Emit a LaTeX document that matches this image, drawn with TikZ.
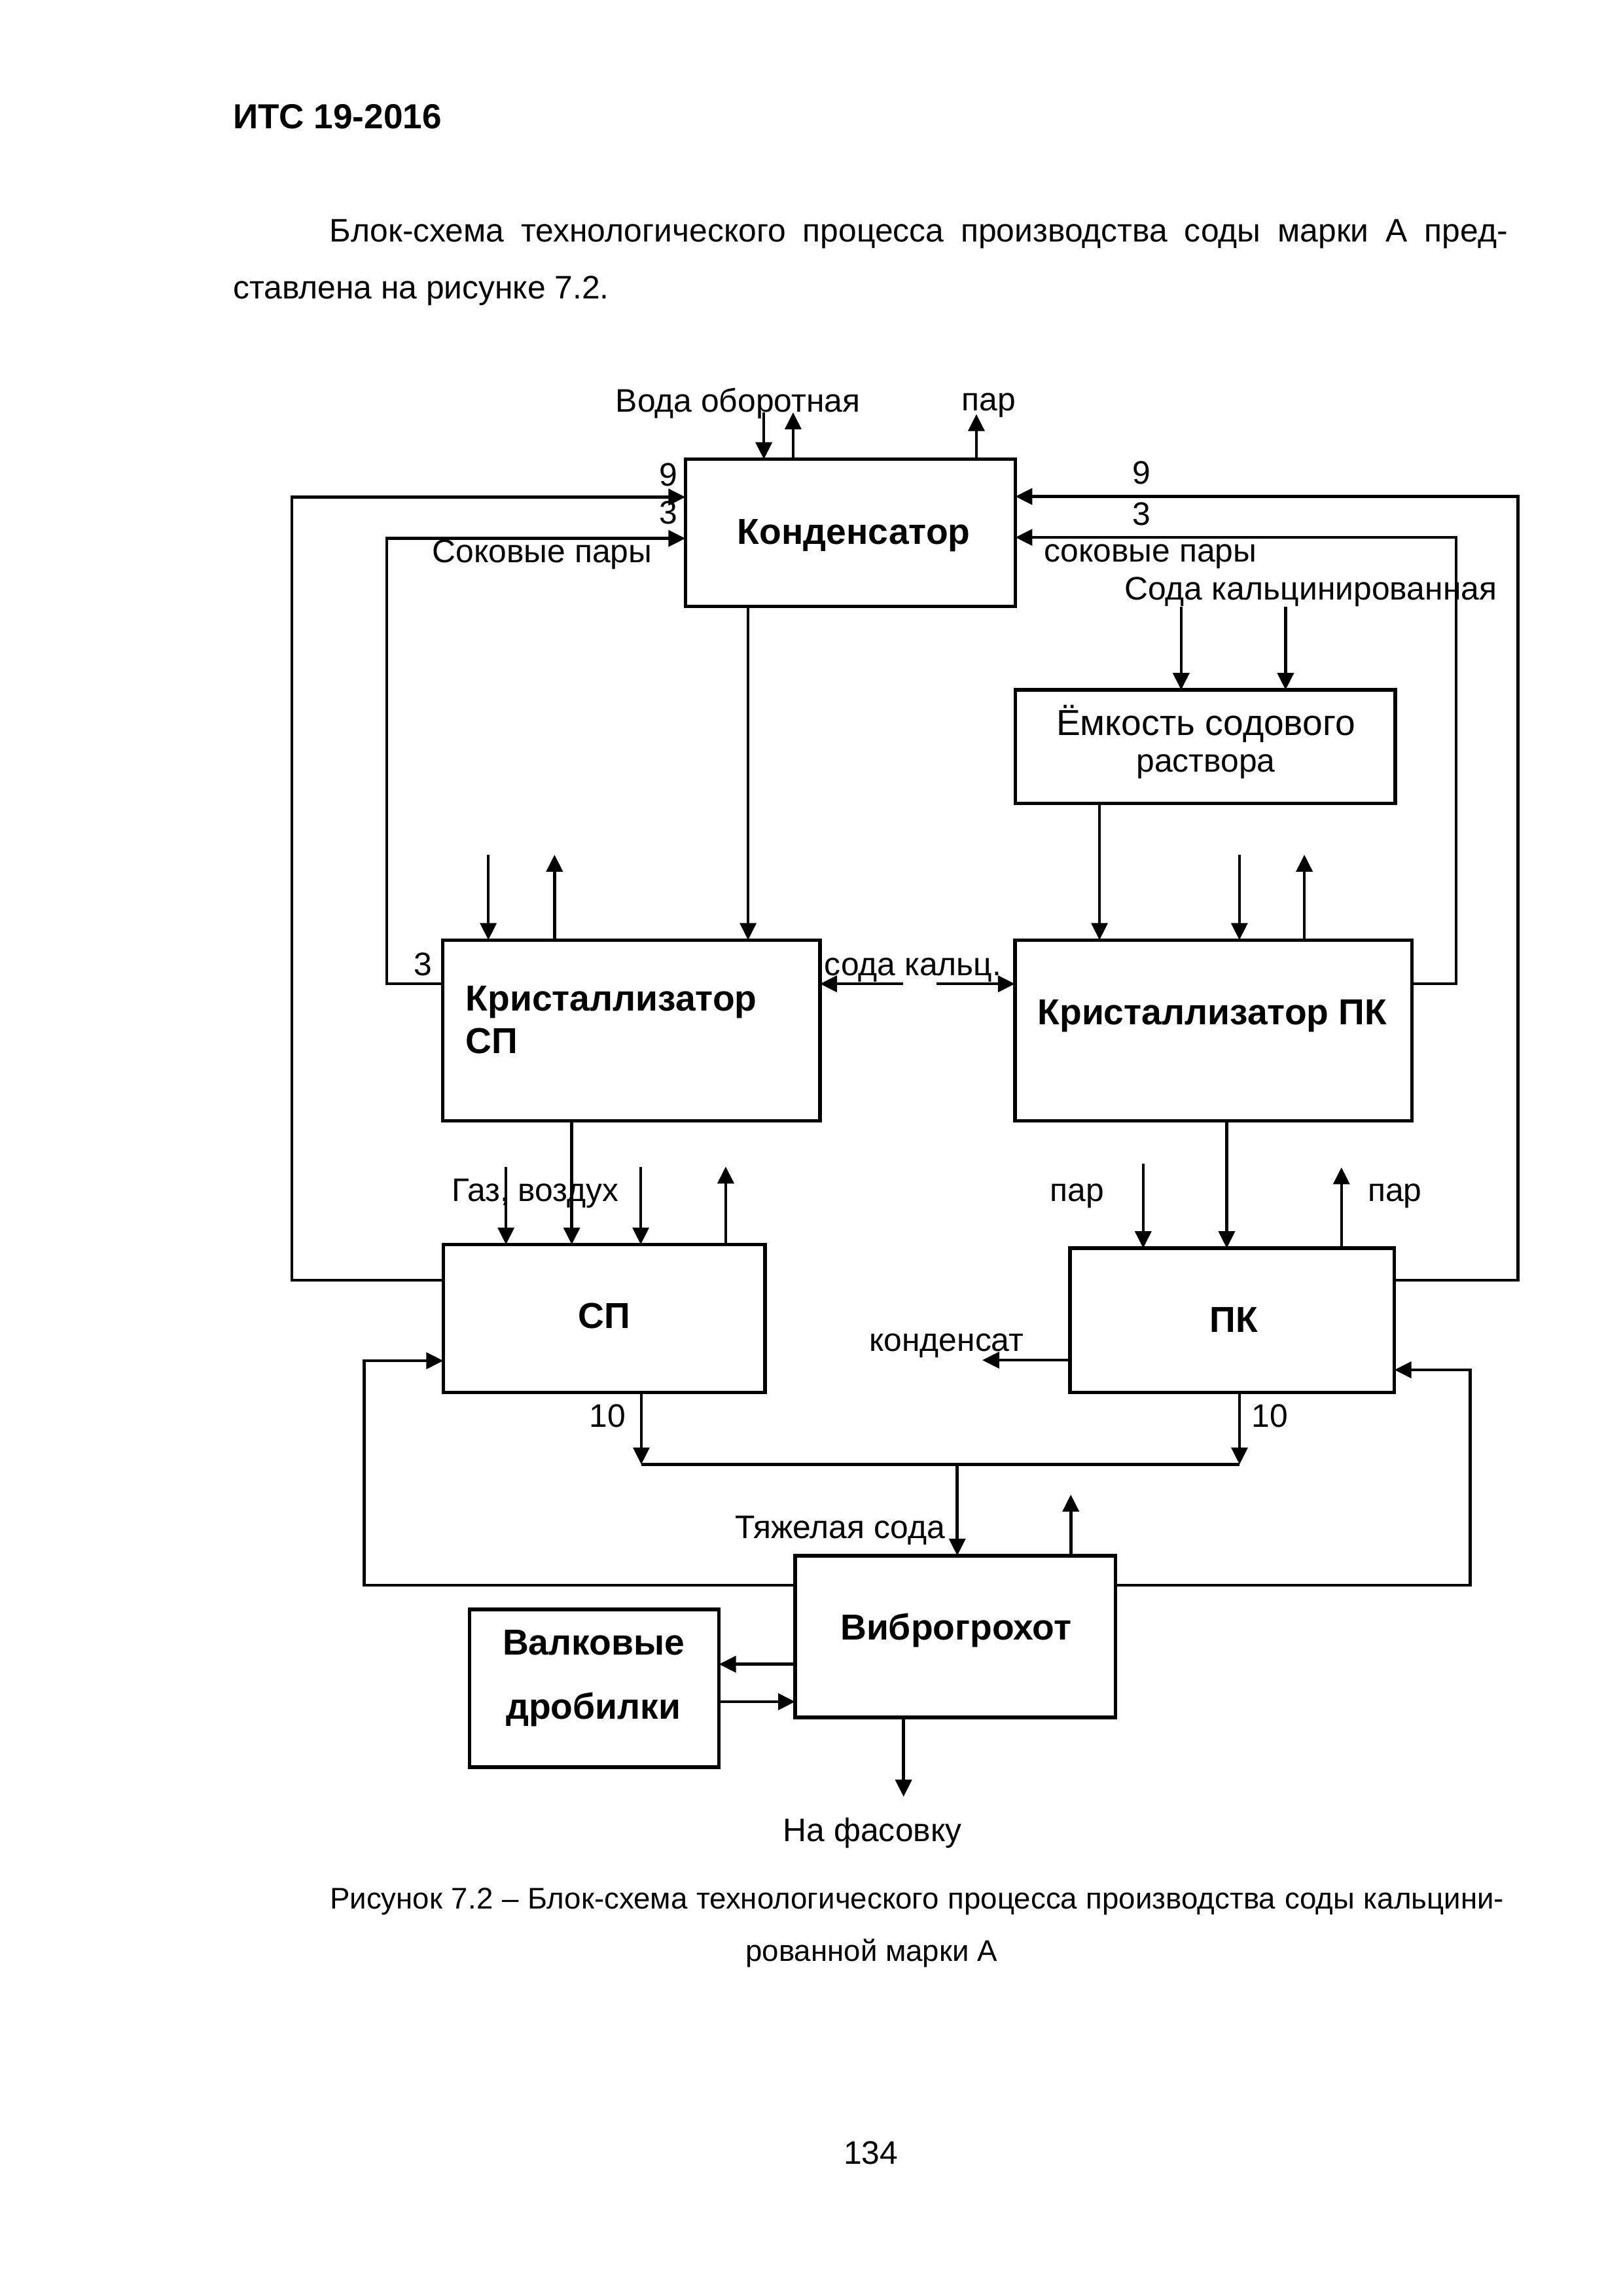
\documentclass[tikz,border=0pt]{standalone}
\usepackage{fontspec}
\setmainfont{Liberation Sans}
\usetikzlibrary{arrows.meta}
\newcommand{\U}{0.19039mm}
\newcommand{\bx}[5]{\node[box,minimum width={(#4-#2)*\U},minimum height={(#5-#3)*\U}] (#1) at ({(#2+#4)/2},{(#3+#5)/2}) {};}
\begin{document}
\begin{tikzpicture}[x=0.19039mm,y=-0.19039mm,
  box/.style={draw,line width=1.3pt,inner sep=0pt,outer sep=0pt},
  conn/.style={line width=1.1pt},
  arr/.style={conn,-{Triangle[length=2.2mm,width=2.1mm]}},
  lbl/.style={inner sep=0pt,outer sep=0pt,font=\fontsize{12}{14}\selectfont},
  blbl/.style={inner sep=0pt,outer sep=0pt,font=\fontsize{13.3}{15}\selectfont\bfseries},
  doc/.style={inner sep=0pt,outer sep=0pt,font=\fontsize{12}{14}\selectfont},
  captxt/.style={inner sep=0pt,outer sep=0pt,font=\fontsize{11}{13}\selectfont}]
\fill[white] (0,0) rectangle (1103,1560.8);
\useasboundingbox (0,0) rectangle (1103,1560.8);

% page text
\node[doc,anchor=base west,font=\fontsize{12.8}{15}\selectfont\bfseries] (hdr) at (158.5,87.5) {ИТС 19-2016};
\node[doc,anchor=base west] (p1) at (224.2,164.3) {\makebox[152.46mm][s]{Блок-схема технологического процесса производства соды марки А пред-}};
\node[doc,anchor=base west] (p2) at (158.5,202.9) {ставлена на рисунке 7.2.};
\node[captxt,anchor=base west] (c1) at (224.3,1297.7) {\makebox[151.97mm][s]{Рисунок 7.2 – Блок-схема технологического процесса производства соды кальцини-}};
\node[captxt,anchor=base] (c2) at (592.5,1333.4) {рованной марки А};
\node[doc,anchor=base] (pg) at (592,1471.3) {134};

% boxes
\bx{K}{466}{312.2}{690.3}{412.3}
\bx{Emk}{690.3}{469}{948.6}{546}
\bx{KrSP}{301}{639}{557.5}{762}
\bx{KrPK}{690}{639}{960}{762}
\bx{SP}{301.4}{846}{520.2}{946.5}
\bx{PK}{727.4}{848.5}{948}{946.5}
\bx{Vib}{540.6}{1057.5}{758.4}{1167.5}
\bx{Val}{319.1}{1094.1}{488.8}{1201.3}

% box texts
\node[blbl,anchor=base] (tK) at (580.5,370) {Конденсатор};
\node[lbl,anchor=base,font=\fontsize{13.3}{15}\selectfont] (tE1) at (819.8,500) {Ёмкость содового};
\node[lbl,anchor=base] (tE2) at (819.8,524.8) {раствора};
\node[blbl,anchor=base west] (tKS1) at (316.7,687.3) {Кристаллизатор};
\node[blbl,anchor=base west] (tKS2) at (316.7,716.2) {СП};
\node[blbl,anchor=base west] (tKP) at (705.5,696.6) {Кристаллизатор ПК};
\node[blbl,anchor=base] (tSP) at (411,902.8) {СП};
\node[blbl,anchor=base] (tPK) at (838.8,905.8) {ПК};
\node[blbl,anchor=base] (tVib) at (649.9,1114.6) {Виброгрохот};
\node[blbl,anchor=base] (tVal1) at (403.6,1125) {Валковые};
\node[blbl,anchor=base] (tVal2) at (403.4,1168.7) {дробилки};

% labels
\node[lbl,anchor=base west] (lVoda) at (418.6,280) {Вода оборотная};
\node[lbl,anchor=base west] (lPar0) at (654,279.4) {пар};
\node[lbl,anchor=base] (l9a) at (454.5,330.5) {9};
\node[lbl,anchor=base] (l3a) at (454.5,356) {3};
\node[lbl,anchor=base west] (lSok1) at (294,382.6) {Соковые пары};
\node[lbl,anchor=base] (l9b) at (776,329) {9};
\node[lbl,anchor=base] (l3b) at (776,357) {3};
\node[lbl,anchor=base west] (lSok2) at (709.7,381.8) {соковые пары};
\node[lbl,anchor=base west] (lSoda) at (764.5,407.6) {Сода кальцинированная};
\node[lbl,anchor=base] (l3c) at (287.5,663.2) {3};
\node[lbl,anchor=base west] (lSodaK) at (560.5,663) {сода кальц.};
\node[lbl,anchor=base west] (lGaz) at (307,816.8) {Газ, воздух};
\node[lbl,anchor=base west] (lPar1) at (714,816.7) {пар};
\node[lbl,anchor=base west] (lPar2) at (930,816.7) {пар};
\node[lbl,anchor=base west] (lKond) at (591,918.7) {конденсат};
\node[lbl,anchor=base west] (l10a) at (400.7,970.3) {10};
\node[lbl,anchor=base west] (l10b) at (851,970.3) {10};
\node[lbl,anchor=base east] (lTyazh) at (642.5,1045.6) {Тяжелая сода};
\node[lbl,anchor=base west] (lFas) at (532.4,1252) {На фасовку};

% free ends
\coordinate (cVodaIn) at (519.3,280.3);
\coordinate (cVodaOut) at (539.2,280.3);
\coordinate (cPar) at (663.8,281.5);
\coordinate (cSoda1) at (803,412.6);
\coordinate (cSoda2) at (874,412.6);
\coordinate (cKs1) at (332,581);
\coordinate (cKs2) at (377,581);
\coordinate (cKp1) at (842.6,581);
\coordinate (cKp2) at (886.8,581);
\coordinate (cDa1) at (614,668.8);
\coordinate (cDa2) at (636.5,668.8);
\coordinate (cGaz1) at (344,793.5);
\coordinate (cGaz2) at (435.6,793.5);
\coordinate (cSpOut) at (493.4,793);
\coordinate (cPar1) at (777.2,791);
\coordinate (cPar2) at (912,793.5);
\coordinate (cKond) at (667.8,924.6);
\coordinate (cJ1) at (436,995.5);
\coordinate (cJ2) at (842.7,995.5);
\coordinate (cJ3) at (650.8,995.5);
\coordinate (cVibUp) at (728,1016);
\coordinate (cFas) at (614.3,1221.4);

% Condenser connections
\draw[arr] (cVodaIn) -- (K.north -| cVodaIn);
\draw[arr] (K.north -| cVodaOut) -- (cVodaOut);
\draw[arr] (K.north -| cPar) -- (cPar);
\draw[arr] (SP.west |- 0,870.2) -| (198.4,337.9) -- (K.west |- 0,337.9);
\draw[arr] (KrSP.west |- 0,668.8) -| (263,366) -- (K.west |- 0,366);
\draw[arr] (PK.east |- 0,870.2) -| (1032,337.5) -- (K.east |- 0,337.5);
\draw[arr] (KrPK.east |- 0,668.8) -| (990,365.3) -- (K.east |- 0,365.3);
\draw[arr] (K.south -| 508.6,0) -- (KrSP.north -| 508.6,0);

% soda tank
\draw[arr] (cSoda1) -- (Emk.north -| cSoda1);
\draw[arr] (cSoda2) -- (Emk.north -| cSoda2);
\draw[arr] (Emk.south -| 747.5,0) -- (KrPK.north -| 747.5,0);

% crystallizers
\draw[arr] (cKs1) -- (KrSP.north -| cKs1);
\draw[arr] (KrSP.north -| cKs2) -- (cKs2);
\draw[arr] (cKp1) -- (KrPK.north -| cKp1);
\draw[arr] (KrPK.north -| cKp2) -- (cKp2);
\draw[arr] (cDa1) -- (KrSP.east |- cDa1);
\draw[arr] (cDa2) -- (KrPK.west |- cDa2);
\draw[arr] (KrSP.south -| 388.7,0) -- (SP.north -| 388.7,0);
\draw[arr] (KrPK.south -| 834,0) -- (PK.north -| 834,0);

% SP and PK
\draw[arr] (cGaz1) -- (SP.north -| cGaz1);
\draw[arr] (cGaz2) -- (SP.north -| cGaz2);
\draw[arr] (SP.north -| cSpOut) -- (cSpOut);
\draw[arr] (cPar1) -- (PK.north -| cPar1);
\draw[arr] (PK.north -| cPar2) -- (cPar2);
\draw[arr] (PK.west |- cKond) -- (cKond);
\draw[arr] (SP.south -| cJ1) -- (cJ1);
\draw[arr] (PK.south -| cJ2) -- (cJ2);
\draw[conn] (cJ1) -- (cJ2);
\draw[arr] (cJ3) -- (Vib.north -| cJ3);

% vibro screen
\draw[arr] (Vib.north -| cVibUp) -- (cVibUp);
\draw[arr] (Vib.west |- 0,1077.5) -| (247.6,925) -- (SP.west |- 0,925);
\draw[arr] (Vib.east |- 0,1077.5) -| (999.4,931.2) -- (PK.east |- 0,931.2);
\draw[arr] (Vib.west |- 0,1131.3) -- (Val.east |- 0,1131.3);
\draw[arr] (Val.east |- 0,1156.8) -- (Vib.west |- 0,1156.8);
\draw[arr] (Vib.south -| cFas) -- (cFas);
\end{tikzpicture}
\end{document}
